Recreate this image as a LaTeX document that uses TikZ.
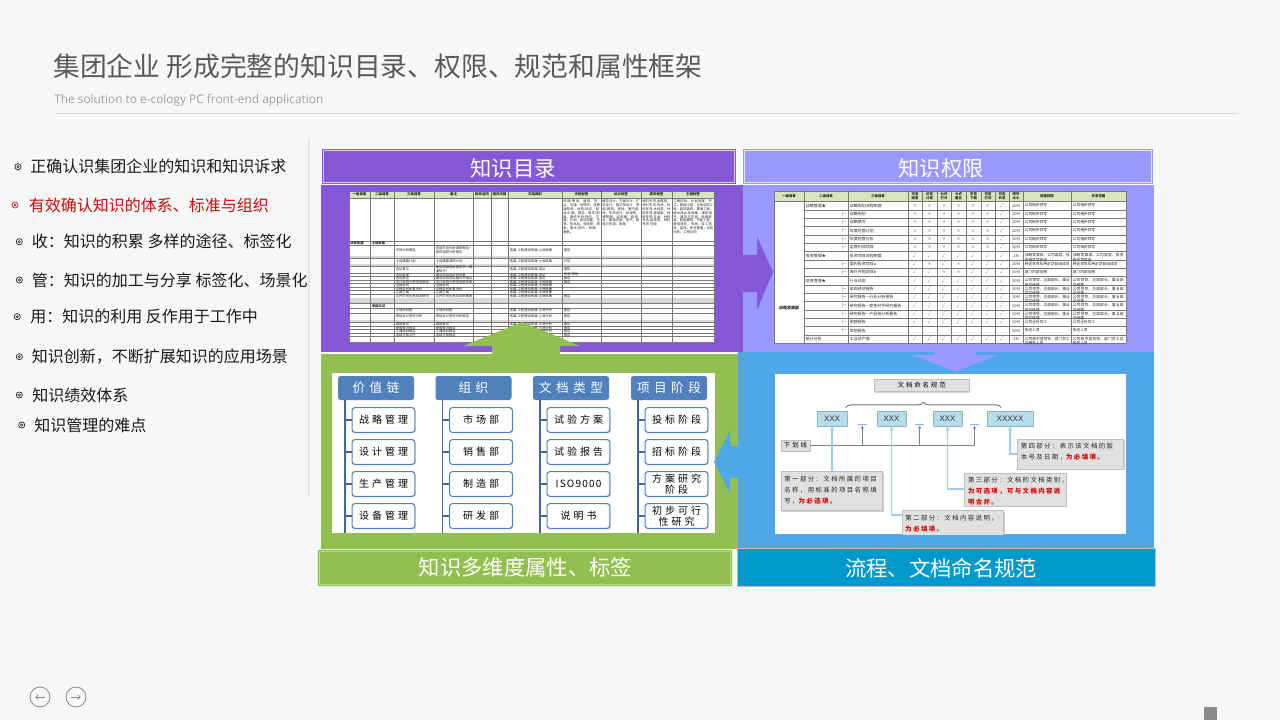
\documentclass[tikz,border=0pt]{standalone}
\usepackage{fontspec}
\setmainfont{Noto Sans CJK SC}
\newfontfamily\cjk{Noto Sans CJK SC}
\newfontfamily\leafsp[LetterSpace=30]{Noto Sans CJK SC}
\newfontfamily\headsp[LetterSpace=35]{Noto Sans CJK SC}
\newfontfamily\descsp[LetterSpace=22]{Noto Sans CJK SC}
\newfontfamily\isofont[LetterSpace=12]{Noto Sans CJK SC}
\newfontfamily\opensans{Open Sans}
\newfontfamily\libsans{Liberation Sans}
\XeTeXlinebreakskip = 0pt plus 1pt
\newcommand\zhbreak{\XeTeXlinebreaklocale "zh"}
\usetikzlibrary{decorations.pathreplacing,shadows,arrows.meta}

\definecolor{bg}{RGB}{246,247,247}
\definecolor{titlegray}{RGB}{89,89,89}
\definecolor{subgray}{RGB}{160,160,160}
\definecolor{rulegray}{RGB}{215,215,215}
\definecolor{bodyblack}{RGB}{25,25,25}
\definecolor{bred}{RGB}{204,10,10}
\definecolor{purp}{RGB}{132,88,214}
\definecolor{lpurp}{RGB}{153,153,255}
\definecolor{grn}{RGB}{146,192,80}
\definecolor{blu}{RGB}{79,166,232}
\definecolor{dblu}{RGB}{0,153,204}
\definecolor{hdrgreen}{RGB}{216,228,188}
\definecolor{tgray}{RGB}{120,120,120}
\definecolor{tbandc}{RGB}{215,215,215}
\definecolor{nodeblue}{RGB}{79,129,189}
\definecolor{xteal}{RGB}{183,222,232}
\definecolor{lineblue}{RGB}{153,204,255}
\definecolor{boxgray}{RGB}{224,224,224}
\definecolor{redtxt}{RGB}{220,0,0}
\definecolor{navgray}{RGB}{138,138,138}

\tikzset{
  bul/.style={circle, draw, line width=0.5pt, minimum size=4.6pt, inner sep=0pt},
  btext/.style={anchor=west, inner sep=0pt, font=\fontsize{12}{14}\selectfont, text=bodyblack},
  hdrtext/.style={inner sep=0pt, text=white, font=\fontsize{16}{18}\selectfont},
  tl/.style={draw=tgray, line width=0.25pt},
  tc/.style={anchor=west, inner sep=0pt, font=\fontsize{2.5}{2.9}\selectfont, align=left, text=black!85},
  th/.style={inner sep=0pt, font=\fontsize{2.6}{3.1}\selectfont\bfseries, align=center, text=black!85},
  tall/.style={anchor=north west, inner sep=0pt, font=\zhbreak\fontsize{2.5}{2.9}\selectfont, align=left, text=black!85},
  pc/.style={anchor=west, inner sep=0pt, font=\fontsize{3}{3.4}\selectfont, text=black!85},
  pm/.style={inner sep=0pt, font=\fontsize{3}{3.4}\selectfont, text=black!75},
  pw/.style={anchor=north west, inner sep=0pt, font=\zhbreak\fontsize{2.8}{3.3}\selectfont, align=left, text=black!85},
  thead/.style={rounded corners=2pt, fill=nodeblue, text=white, minimum width=57pt, minimum height=18pt, inner sep=0pt, font=\headsp\fontsize{9.5}{10}\selectfont},
  tleaf/.style={rounded corners=2pt, draw=nodeblue, line width=0.8pt, fill=white, minimum width=47pt, minimum height=18.5pt, inner sep=0pt, align=center, font=\leafsp\fontsize{7.5}{8.3}\selectfont, drop shadow={shadow xshift=0.8pt, shadow yshift=-0.8pt, fill=black!25}},
  tline2/.style={draw=nodeblue!80!black, line width=0.9pt},
  gbox/.style={fill=boxgray, draw=black!25, line width=0.3pt, inner sep=0pt, drop shadow={shadow xshift=0.8pt, shadow yshift=-0.8pt, fill=black!35}},
  xbox/.style={fill=xteal, draw=xteal!80!black, line width=0.2pt, inner sep=0pt, font=\libsans\fontsize{6}{6}\selectfont, text=black!80, drop shadow={shadow xshift=0.6pt, shadow yshift=-0.6pt, fill=black!25}},
  dbox/.style={anchor=north west, fill=boxgray, draw=black!25, line width=0.3pt, inner sep=0pt, drop shadow={shadow xshift=1pt, shadow yshift=-1pt, fill=black!35}},
  dtext/.style={anchor=north west, inner sep=0pt, align=left, font=\descsp\fontsize{4.8}{8.2}\selectfont, text=black!85},
  bline/.style={draw=lineblue, line width=1.4pt},
  gline/.style={draw=black!50, line width=0.7pt},
  navc/.style={circle, draw=navgray, line width=0.6pt, minimum size=15pt, inner sep=0pt}
}

\newcommand\trow[6]{%
  \draw[tl] (349,#2) -- (714,#2);
  \node[tc] at (395.5,{(#1+#2)/2}) {#3};
  \node[tc] at (435.5,{(#1+#2)/2}) {#4};
  \node[tc] at (509.5,{(#1+#2)/2}) {#5};
  \node[tc] at (563.5,{(#1+#2)/2}) {#6};
}
\newcommand\tband[2]{\fill[tbandc] (349,#1) rectangle (714,#2); \draw[tl] (349,#2) -- (714,#2);}

\newcommand\prow[8]{%
  \pgfmathsetmacro\ytopv{201.5+(#1-1)*8.33}
  \pgfmathsetmacro\ycv{\ytopv+4.17}
  \pgfmathsetmacro\ybotv{\ytopv+8.33}
  \pgfmathsetmacro\ywv{\ytopv+2}
  \draw[tl] (804,\ybotv) -- (1126,\ybotv);
  \node[pc] at (805.5,\ycv) {#2};
  \node[pc,anchor=east] at (847,\ycv) {#3};
  \node[pc] at (849.5,\ycv) {#4};
  \foreach \m [count=\k] in {#5} {\node[pm] at ({915+(\k-1)*14.5},\ycv) {\m};}
  \node[pm] at (1016,\ycv) {#6};
  \node[pw, text width=34pt] at (1024.5,\ywv) {#7};
  \node[pw, text width=39pt] at (1072.5,\ywv) {#8};
}

\newcommand\treecol[7]{%
  \node[thead] (#2h) at (#1+38,388) {#3};
  \draw[tline2] (#1+7,400) -- (#1+7,533);
  \foreach \t/\yy [count=\k] in {#4/420,#5/452,#6/484,#7/516} {
    \node[tleaf] (#2\k) at (#1+45.5,\yy) {\t};
    \draw[tline2] (#2\k.west) -- ++(-7,0);
  }
}

\begin{document}
\begin{tikzpicture}[x=0.75pt,y=-0.75pt]
\useasboundingbox (0,0) rectangle (1280,720);
\fill[bg] (0,0) rectangle (1280,720);

% ---------- title ----------
\node[anchor=base west, inner sep=0pt, text=titlegray, font=\fontsize{20.1}{21}\selectfont] (title) at (53,77) {集团企业 形成完整的知识目录、权限、规范和属性框架};
\node[anchor=base west, inner sep=0pt, text=subgray, font=\opensans\fontsize{8.9}{9}\selectfont] (subtitle) at (54,104) {The solution to e-cology PC front-end application};
\draw[rulegray, line width=0.6pt] (55,113) -- (1237,113);
\draw[black!10, line width=0.8pt] (309,138) -- (309,497);

% ---------- bullet list ----------
\foreach \ix/\tx/\yy/\txt/\col [count=\i] in {
  18/30/166.7/正确认识集团企业的知识和知识诉求/bodyblack,
  15/28.7/205/有效确认知识的体系、标准与组织/bred,
  19.3/31.7/241.7/收：知识的积累 多样的途径、标签化/bodyblack,
  19.3/31.7/280/管：知识的加工与分享 标签化、场景化/bodyblack,
  17.3/30/316.7/用：知识的利用 反作用于工作中/bodyblack,
  19.3/31.7/356.7/知识创新，不断扩展知识的应用场景/bodyblack,
  19.3/32/395/知识绩效体系/bodyblack,
  21.7/34/425/知识管理的难点/bodyblack} {
  \node[bul, draw=\col] (bul\i) at (\ix,\yy) {};
  \draw[\col, line width=0.4pt] (bul\i.center) circle (1.1);
  \node[btext, text=\col] (item\i) at (\tx,\yy) {\txt};
}

% ---------- panels ----------
\fill[purp] (321,148) rectangle (737,185);
\fill[purp] (321,185) rectangle (743,352);
\draw[white, line width=0.6pt] (321.5,148.5) rectangle (736.5,184.5);
\draw[white!70!purp, line width=0.5pt] (323.5,150.5) rectangle (734.5,182.5);
\node[hdrtext] (hkm) at (513,168) {知识目录};

\fill[lpurp] (741.5,148) rectangle (1154,185);
\fill[lpurp] (743,185) rectangle (1154,352);
\draw[white, line width=0.6pt] (742,148.5) rectangle (1153.5,184.5);
\draw[white!70!lpurp, line width=0.5pt] (744,150.5) rectangle (1151.5,182.5);
\node[hdrtext] (hqx) at (941,168) {知识权限};

\fill[grn] (321,353.5) rectangle (738,549);
\fill[blu] (738,352) rectangle (1154,549);

\fill[grn] (317,549) rectangle (733,587);
\draw[green!15!white, line width=0.6pt] (317.5,549.5) rectangle (732.5,586.5);
\draw[grn!60!white, line width=0.5pt] (319.5,551.5) rectangle (730.5,584.5);
\node[hdrtext] (fsx) at (525.5,567) {知识多维度属性、标签};

\fill[dblu] (737,548) rectangle (1156,587);
\draw[black!25!white, line width=0.6pt] (737.5,548.5) rectangle (1155.5,586.5);
\node[hdrtext] (fgf) at (941,568) {流程、文档命名规范};

% ---------- table 1 (knowledge catalogue) ----------
\fill[white] (349,191) rectangle (714,342);
\fill[hdrgreen] (349,191) rectangle (714,198);
\foreach \a/\b/\t in {349/370/一级目录,370/394/二级目录,394/434/三级目录,434/473/备注,473/491/相关合同,491/508/相关文档,508/562/文档类别,562/601/文档标签,601/641/设计标签,641/672/成本标签,672/714/工程标签}
  \node[th] at ({(\a+\b)/2},194.5) {\t};
\draw[tl] (349,191) -- (714,191);
\draw[tl] (349,198) -- (714,198);
\node[tall, text width=27.5pt] (tag1) at (563,199.5) {申请/审批，通知，签证，沟通，说明书，变更通知单，会商/协议，回函/汇报，报告，规范/制度，操作手册/指引，方案，计划，会议纪要，记录，样本品，验收单，图纸，图片/照片，影像，案例。};
\node[tall, text width=28pt] (tag2) at (602,199.5) {概念设计，方案设计，扩初设计，施工图设计，景观/建筑，规划，室内装修，专项设计，综合图，建筑图，结构图，给排水，暖通空调，电气，弱电与空调，电梯};
\node[tall, text width=21.5pt] (tag3) at (642,199.5) {材料专项-金属类，材料专项-石材，材料专项-木材类，材料专项-玻璃类，材料专项-五金，材料专项-装饰类，材料专项-空调};
\node[tall, text width=30pt] (tag4) at (673,199.5) {工程招标，计划进度，开工，基础工程，主体结构工程，装饰装修，幕墙工程，给水排水及采暖，建筑电气，通风与空调，电梯安装，智能建筑，节能工程，景观绿化，市政，竣工验收，监理，安全管理，合同付款，工程合同};
\draw[tl] (349,241) -- (714,241);
\node[tc, font=\fontsize{2.5}{2.9}\selectfont\bfseries] at (350,243) {项目拓展};
\node[tc, font=\fontsize{2.5}{2.9}\selectfont\bfseries] at (371.5,243) {土地收集};
\draw[tl] (349,245) -- (714,245);
\trow{245}{256}{市场分析报告}{宏观市场分析调研报告+\\城市调研分析报告}{拓展-工程建设拓展-土地收集}{报告}
\tband{256}{258}
\trow{258}{264}{土地储备计划}{土地储备调研计划}{拓展-工程建设拓展-土地收集}{计划}
\tband{264}{266}
\trow{266}{273}{选址意见}{建设项目选址意见书（或\\通知书）}{拓展-工程建设拓展-选址}{通知}
\trow{273}{276.5}{选址批复}{建设项目选址的批复}{拓展-工程建设拓展-选址}{申请/审批}
\trow{276.5}{280}{选址报告}{建设项目选址建议书报告}{拓展-工程建设拓展-选址}{报告}
\trow{280}{283.5}{中介机构土地信用联系}{中介机构土地信用联系表}{拓展-工程建设拓展-土地收集}{报告}
\trow{283.5}{287}{运输合同}{运输合同}{拓展-工程建设拓展-土地收集}{}
\trow{287}{290.5}{运输合同配置资料}{运输合同配置资料}{拓展-工程建设拓展-土地收集}{}
\trow{290.5}{294}{汇报方案}{汇报方案}{拓展-工程建设拓展-土地收集}{}
\trow{294}{298}{公开市场土地信息联系}{公开市场土地信息采集表}{拓展-工程建设拓展-土地收集}{报告}
\tband{298}{303.5}
\trow{303.5}{308}{}{}{}{}
\node[tc, font=\fontsize{2.5}{2.9}\selectfont\bfseries] at (371.5,305.75) {项目论证};
\trow{308}{313}{土地规划图}{土地规划图}{拓展-工程建设拓展-土地分析}{报告}
\trow{313}{320}{规划设计条件分析}{规划设计条件分析报告}{拓展-工程建设拓展-土地分析}{报告}
\tband{320}{322.5}
\trow{322.5}{326}{踏勘报告}{踏勘报告}{拓展-工程建设拓展-土地分析}{报告}
\trow{326}{329.5}{配套情况报告}{配套情况报告}{拓展-工程建设拓展-土地分析}{报告}
\trow{329.5}{333}{三通规划报告}{三通规划报告}{拓展-工程建设拓展-土地分析}{报告}
\trow{333}{336.5}{项目评估文件}{项目评估报告}{拓展-工程建设拓展-土地分析}{报告}
\trow{336.5}{342}{}{}{}{}
\foreach \x in {349,370,394,434,473,491,508,562,601,641,672,714}
  \draw[tl] (\x,191) -- (\x,342);
\fill[red] (600,191) rectangle (601.5,192.5);

% ---------- table 2 (permissions) ----------
\fill[white] (774,191) rectangle (1126,343);
\fill[hdrgreen] (774,191) rectangle (1126,201.5);
\foreach \a/\b/\t in {774/804/一级目录,804/848/二级目录,848/908/三级目录,908/922/可否\\回复,922/937/可否\\订阅,937/951/允许\\打分,951/966/允许\\匿名,966/981/可否\\下载,981/995/可否\\打印,995/1009/可否\\共享,1009/1023/附件\\大小,1023/1071/创建权限,1071/1126/共享范围}
  \node[th] at ({(\a+\b)/2},196.3) {\t};
\draw[tl] (774,191) -- (1126,191);
\draw[tl] (774,201.5) -- (1126,201.5);
\prow{1}{战略管理★}{}{战略规划流程制度}{×,×,×,×,×,×,√}{10M}{公司相关领导}{公司相关领导}
\prow{2}{}{|—}{战略规划}{×,×,×,×,×,×,√}{10M}{公司相关领导}{公司相关领导}
\prow{3}{}{|—}{战略撰写}{×,×,×,×,×,×,√}{10M}{公司相关领导}{公司相关领导}
\prow{4}{}{|—}{年度经营计划}{×,×,×,×,×,×,√}{10M}{公司相关领导}{公司相关领导}
\prow{5}{}{|—}{年度经营分析}{×,×,×,×,×,×,√}{10M}{公司相关领导}{公司相关领导}
\prow{6}{}{|—}{运营利润项目}{×,×,×,×,×,×,√}{10M}{公司相关领导}{公司相关领导}
\prow{7}{投资管理★}{}{投资项目流程制度}{√,√,√,√,√,√,√}{2M}{战略发展部、公司高层、投资相关项目组}{战略发展部、公司高层、投资相关项目组}
\prow{8}{}{|—}{国内投资项目a}{√,×,√,×,√,√,√}{10M}{特定领导及特定项目组成员}{特定领导及特定项目组成员}
\prow{9}{}{|—}{海外并购项目b}{√,√,×,×,√,√,√}{10M}{部门内部范围}{部门内部范围}
\prow{10}{信息管理★}{}{行业动态}{√,√,√,√,√,√,√}{10M}{公司领导、总部部长、事业部总经理}{公司领导、总部部长、事业部总经理}
\prow{11}{}{|—}{宏观经济报告}{√,√,√,√,√,√,√}{10M}{公司领导、总部部长、事业部总经理}{公司领导、总部部长、事业部总经理}
\prow{12}{}{|—}{研究报告—行业分析报告}{√,√,√,√,√,√,√}{10M}{公司领导、总部部长、事业部总经理}{公司领导、总部部长、事业部总经理}
\prow{13}{}{|—}{研究报告—竞争对手研究报告}{√,√,√,√,√,√,√}{10M}{公司领导、总部部长、事业部总经理}{公司领导、总部部长、事业部总经理}
\prow{14}{}{|—}{研究报告—产品线分析报告}{√,√,√,√,√,√,√}{10M}{公司领导、总部部长、事业部总经理}{公司领导、总部部长、事业部总经理}
\prow{15}{}{|—}{舆情报告}{√,√,√,√,√,√,√}{10M}{公司全体员工}{公司全体员工}
\prow{16}{}{|—}{其他报告}{}{10M}{指定人员}{指定人员}
\prow{17}{统计分析}{}{工业总产值}{√,√,√,√,√,√,√}{5M}{公司高中层领导、部门员工及相关人员}{公司高中层领导、部门员工及相关人员}
\draw[tl] (774,343) -- (804,343);
\node[pc, anchor=center, font=\fontsize{3}{3.4}\selectfont\bfseries] (zlfz) at (789,308) {战略发展部};
\foreach \x in {774,804,848,908,922,937,951,966,981,995,1009,1023,1071,1126}
  \draw[tl] (\x,191) -- (\x,343);
\fill[red] (921,191) rectangle (922.5,192.5);

% ---------- tree of attributes ----------
\fill[white] (332,373) rectangle (715,533);
\treecol{338}{a}{价值链}{战略管理}{设计管理}{生产管理}{设备管理}
\treecol{435.5}{b}{组织}{市场部}{销售部}{制造部}{研发部}
\treecol{533}{c}{文档类型}{试验方案}{试验报告}{{\isofont ISO9000}}{说明书}
\treecol{631}{d}{项目阶段}{投标阶段}{招标阶段}{方案研究\\阶段}{初步可行\\性研究}

% ---------- naming rule ----------
\fill[white] (775,374) rectangle (1126,534);
\begin{scope}
\clip (775,374) rectangle (1126,534);
\node[gbox, minimum width=71pt, minimum height=9.5pt, font=\leafsp\fontsize{4.8}{5}\selectfont] (nm) at (921.7,385.3) {文档命名规范};
\draw[black!55, line width=0.7pt, decorate, decoration={brace, amplitude=4pt}] (845.7,407.5) -- (1001,407.5);
\node[xbox, minimum width=22pt, minimum height=11.5pt] (x1) at (832,418.7) {XXX};
\node[xbox, minimum width=21.5pt, minimum height=11.5pt] (x2) at (891.5,418.7) {XXX};
\node[xbox, minimum width=21.5pt, minimum height=11.5pt] (x3) at (947.5,418.7) {XXX};
\node[xbox, minimum width=34pt, minimum height=11.5pt] (x4) at (1010,418.7) {XXXXX};
\coordinate (u1) at (862.3,424.5);
\coordinate (u2) at (919.7,424.5);
\coordinate (u3) at (974.5,424.5);
\foreach \u in {u1,u2,u3}
  \draw[draw=lineblue!85!blue, line width=1.3pt] ([xshift=-3.4pt]\u) -- ([xshift=3.4pt]\u);
\node[gbox, minimum width=22pt, minimum height=8.3pt, font=\leafsp\fontsize{4.8}{5}\selectfont] (ul) at (795.5,445.5) {下划线};
\draw[gline] (ul.east) -- (ul.east -| u3);
\foreach \u in {u1,u2,u3}
  \draw[gline, -{Stealth[length=2.5pt,width=2.2pt]}] (ul.east -| \u) -- ([yshift=-0.8pt]\u);
% description boxes (box + text)
\node[dbox, minimum width=76.2pt, minimum height=29.3pt] (d1) at (780.7,471.3) {};
\node[dbox, minimum width=76.2pt, minimum height=22pt] (d2) at (901.7,510.3) {};
\node[dbox, minimum width=76.2pt, minimum height=25pt] (d3) at (964.3,472.5) {};
\node[dbox, minimum width=79.7pt, minimum height=22.5pt] (d4) at (1017,438.7) {};
\node[dtext] (d1t) at ([xshift=2.6pt,yshift=-3.4pt]d1.north west) {第一部分：文档所属的项目\\名称，用标准的项目名称填\\写，\textcolor{redtxt}{\bfseries 为必选项。}};
\node[dtext] (d2t) at ([xshift=2.6pt,yshift=-3.4pt]d2.north west) {第二部分：文档内容说明，\\\textcolor{redtxt}{\bfseries 为必填项。}};
\node[dtext] (d3t) at ([xshift=2.6pt,yshift=-3.4pt]d3.north west) {第三部分：文档的文档类别，\\\textcolor{redtxt}{\bfseries 为可选项，可与文档内容说}\\\textcolor{redtxt}{\bfseries 明合并。}};
\node[dtext] (d4t) at ([xshift=2.6pt,yshift=-3.4pt]d4.north west) {第四部分：表示该文档的版\\本号及日期，\textcolor{redtxt}{\bfseries 为必填项。}};
\draw[bline, {Stealth[length=3pt,width=3pt]}-] (x1.south) -- (x1.south |- d1.north);
\draw[bline, {Stealth[length=3pt,width=3pt]}-] (x2.south) |- ([yshift=-3.8pt]d2.north west);
\draw[bline, {Stealth[length=3pt,width=3pt]}-] (x3.south) |- (d3.west);
\draw[bline, {Stealth[length=3pt,width=3pt]}-] (x4.south) |- (d4.west);
\end{scope}

% ---------- block arrows ----------
\fill[grn] (492,354) -- (492,346) -- (463,346) -- (522,322) -- (580,346) -- (560,346) -- (560,354) -- cycle;
\fill[purp] (742,255) -- (757,255) -- (757,237) -- (773,272) -- (757,310) -- (757,292) -- (742,292) -- cycle;
\fill[lpurp] (934,351) -- (934,355) -- (913,355) -- (955,372) -- (997,355) -- (976,355) -- (976,351) -- cycle;
\fill[blu] (739,446) -- (730,446) -- (730,430) -- (714,462) -- (730,493) -- (730,478) -- (739,478) -- cycle;

% ---------- navigation ----------
\node[navc] (navl) at (40,697) {};
\node[navc] (navr) at (76,697) {};
\draw[navgray, line width=0.6pt, -{Straight Barb[length=1.8pt,width=3.6pt]}] ([xshift=3.5pt]navl.center) -- ([xshift=-3.5pt]navl.center);
\draw[navgray, line width=0.6pt, -{Straight Barb[length=1.8pt,width=3.6pt]}] ([xshift=-3.5pt]navr.center) -- ([xshift=3.5pt]navr.center);
\fill[navgray] (1204,707) rectangle (1217,720);
\end{tikzpicture}
\end{document}
